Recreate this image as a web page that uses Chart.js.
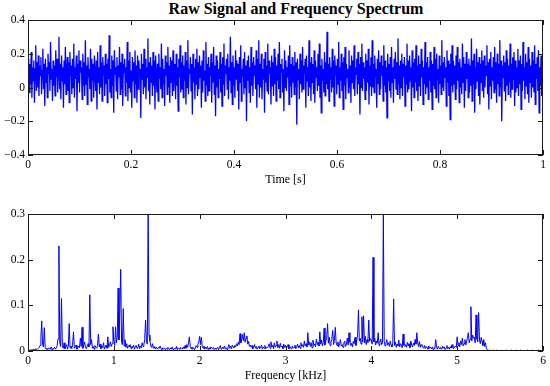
<!DOCTYPE html>
<html>
<head>
<meta charset="utf-8">
<title>Raw Signal and Frequency Spectrum</title>
<script src="https://cdn.jsdelivr.net/npm/chart.js@4.4.1/dist/chart.umd.min.js"></script>
<style>
	html, body { margin: 0; padding: 0; background: #fff; }
	#wrap { position: relative; width: 550px; height: 386px; overflow: hidden; }
	#fig-title {
		position: absolute; left: 0; top: 0; width: 550px; height: 20px;
		box-sizing: border-box; padding-left: 42px;
		text-align: center; line-height: 20px;
		font: bold 16px "Liberation Serif", "Times New Roman", serif; color: #000;
	}
	canvas { position: absolute; left: 0; }
	#chart-signal { top: 0; }
	#chart-spectrum { top: 193px; }
</style>
</head>
<body>
<div id="wrap">
	<div id="fig-title">Raw Signal and Frequency Spectrum</div>
	<canvas id="chart-signal" width="550" height="193"></canvas>
	<canvas id="chart-spectrum" width="550" height="193"></canvas>
</div>
<script>
'use strict';

// Raw signal, in units of 0.01 (800 samples over 1 s).
var signalCentis = [
	9, 17, -3, 14, 2, 21, -6, 12, 4, 16, -9, 11, 25, -2, 15, 0, 19, -5, 13, 7,
	18, -4, 10, 23, -1, 14, -11, 17, 3, 12, -6, 20, 8, 15, -2, 27, 5, 11, -8, 16,
	1, 13, -5, 22, 6, 17, -3, 10, 30, -1, 14, -7, 19, 4, 12, -12, 16, 2, 24, -4,
	11, 18, -2, 15, -9, 21, 7, 13, -4, 17, 0, 26, -6, 12, 5, 19, -14, 14, 3, 22,
	-3, 16, 9, 12, -7, 20, 1, 15, -5, 28, 2, 13, -10, 18, 6, 11, -1, 23, -8, 17,
	4, 14, -6, 19, 10, -2, 16, -13, 21, 3, 12, -4, 25, 0, 15, -8, 18, 7, 13, -5,
	20, 2, 14, -9, 17, 5, 31, -3, 11, -6, 19, 1, 16, -15, 22, 8, 12, -2, 18, -7,
	13, 6, 24, -4, 15, -1, 20, -11, 14, 9, 17, -5, 12, 3, 27, -8, 16, 0, 21, -3,
	10, -12, 18, 4, 15, -6, 22, 2, 13, -9, 19, -1, 16, 7, 11, -18, 20, 5, 14, -4,
	23, 0, 17, -7, 12, 6, 29, -2, 15, -10, 18, 3, 13, -5, 21, 1, 16, -13, 19, 8,
	-3, 14, -8, 20, 5, 12, -1, 26, -6, 17, 2, 11, -11, 19, 7, 15, -4, 24, 0, 13,
	-9, 18, 3, 16, -5, 22, -2, 14, 9, -7, 20, 1, 12, -14, 17, 6, 25, -3, 15, -1,
	19, -6, 13, 4, 21, -10, 16, 0, 28, -4, 11, 8, 18, -2, 14, -16, 20, 3, 12, -7,
	17, 2, 23, -5, 15, -1, 19, 6, 13, -12, 16, -3, 22, 4, 10, -8, 27, 1, 14, -5,
	18, -2, 12, 7, 20, -9, 15, 3, 24, -4, 13, -17, 19, 0, 16, -6, 11, 5, 21, -3,
	14, -11, 18, 2, 26, -5, 13, 8, 17, -1, 20, -7, 12, 4, 30, -3, 15, -10, 19, 1,
	12, -6, 22, 5, 16, -2, 14, -13, 18, 3, 25, -8, 11, 6, 17, -4, 21, 0, 13, -20,
	16, 4, 19, -3, 12, -9, 24, 1, 15, -5, 18, 7, 13, -1, 22, -12, 17, 2, 28, -6,
	14, 0, 20, -7, 11, 5, 17, -15, 21, 3, 13, -2, 26, -4, 16, 8, 12, -10, 19, 1,
	15, -5, 23, 2, 18, -8, 13, 4, 20, -1, 27, -6, 14, 9, 17, -3, 11, -14, 22, 0,
	16, -2, 12, 6, 19, -10, 25, 1, 14, -6, 18, 3, 13, -4, 21, 0, 15, -22, 17, 5,
	11, -7, 20, 2, 16, -3, 24, -1, 13, 8, 17, -12, 19, 4, 12, -5, 28, 0, 15, -8,
	18, 3, 14, -4, 22, -9, 16, 6, 12, -2, 20, 1, 26, -6, 13, -15, 17, 4, 11, -3,
	21, -5, 15, 2, 33, -1, 14, -8, 18, 5, 12, -3, 23, 0, 16, -11, 19, 7, 13, -4,
	17, 2, 27, -6, 12, 4, 20, -2, 15, -13, 18, 1, 24, -7, 14, 6, 11, -3, 22, 0,
	13, -9, 19, 3, 16, -1, 25, -5, 12, 8, 17, -4, 21, 2, 14, -16, 18, 0, 26, -2,
	15, 5, 12, -7, 20, -2, 16, 3, 23, -10, 13, 1, 18, -5, 28, 0, 14, -3, 19, 6,
	11, -12, 17, 2, 22, -4, 15, -1, 19, 7, 13, -8, 25, 1, 16, -3, 12, -18, 20, 4,
	14, -2, 18, -6, 24, 3, 12, -9, 17, 5, 21, -1, 15, -4, 29, 2, 13, -7, 16, 0,
	20, -5, 14, 6, 18, -11, 13, 2, 26, -3, 16, -1, 19, 4, 12, -14, 22, 0, 15, -6,
	17, 3, 25, -2, 13, -8, 19, 1, 14, -5, 23, 6, 16, -10, 12, 2, 27, -4, 15, 0,
	18, -7, 12, 4, 21, -3, 16, -13, 14, 1, 24, -1, 17, -6, 20, 5, 11, -9, 19, 2,
	13, -4, 28, 0, 15, -2, 18, 6, 12, -11, 22, 3, 16, -5, 14, -19, 20, 1, 25, -3,
	16, 2, 13, -7, 19, -1, 24, 4, 15, -9, 17, 0, 12, -4, 26, 3, 18, -12, 14, -2,
	21, 5, 14, -6, 17, -3, 13, 1, 29, -8, 16, 2, 20, -15, 12, -1, 23, 4, 15, -5,
	18, -10, 14, 3, 22, -2, 16, -6, 19, 0, 13, 7, 25, -4, 15, -13, 17, 1, 21, -7,
	12, 4, 18, -3, 24, -1, 15, -9, 20, 2, 14, -5, 28, 0, 16, -20, 13, 6, 19, -2,
	15, -8, 22, 1, 17, -4, 13, 3, 26, -6, 14, -1, 18, 5, 21, -11, 16, -3, 12, 0,
	23, -5, 16, 2, 19, -13, 14, -2, 27, 4, 12, -7, 20, 1, 15, -4, 24, -9, 17, 3,
	13, -6, 21, 0, 16, -3, 25, -10, 14, 5, 18, -2, 22, -15, 12, 1, 19, -5, 16, -8
];

// Magnitude spectrum, in units of 0.001, one value per 10 Hz bin from 0 to 5.99 kHz.
var spectrumMilli = [
	1, 2, 1, 3, 2, 2, 4, 3, 2, 5, 3, 4, 6, 8, 12, 30, 66, 14, 9, 51,
	8, 4, 6, 3, 7, 5, 4, 9, 3, 6, 5, 8, 4, 7, 12, 27, 230, 18, 10, 115,
	12, 6, 18, 5, 9, 14, 4, 10, 60, 7, 11, 5, 15, 42, 6, 9, 13, 4, 8, 11,
	7, 28, 10, 52, 6, 13, 20, 8, 5, 11, 16, 9, 123, 14, 25, 6, 10, 4, 12, 8,
	6, 12, 37, 9, 15, 5, 11, 7, 18, 4, 9, 13, 6, 31, 8, 14, 20, 10, 16, 53,
	22, 12, 53, 18, 30, 138, 24, 86, 179, 20, 14, 93, 11, 25, 8, 16, 6, 12, 9, 14,
	5, 10, 7, 13, 4, 9, 12, 6, 8, 15, 5, 11, 7, 18, 10, 14, 26, 68, 20, 15,
	310, 35, 22, 12, 8, 16, 6, 10, 5, 9, 7, 4, 8, 6, 11, 5, 3, 7, 4, 6,
	3, 6, 4, 8, 5, 3, 7, 4, 9, 3, 5, 6, 4, 10, 3, 7, 5, 4, 8, 6,
	4, 9, 5, 12, 6, 14, 8, 18, 31, 10, 5, 9, 4, 7, 3, 6, 12, 8, 15, 20,
	32, 14, 30, 9, 6, 11, 4, 8, 5, 10, 3, 7, 4, 9, 6, 5, 8, 3, 6, 4,
	5, 8, 3, 7, 12, 4, 6, 9, 5, 11, 4, 7, 3, 8, 14, 6, 10, 5, 13, 9,
	7, 12, 9, 16, 11, 20, 14, 38, 18, 25, 36, 22, 40, 19, 28, 33, 15, 21, 10, 13,
	8, 12, 5, 9, 14, 6, 10, 4, 8, 11, 5, 7, 13, 4, 9, 6, 12, 5, 8, 7,
	10, 16, 6, 20, 9, 13, 5, 18, 8, 12, 22, 7, 14, 6, 17, 9, 11, 5, 15, 8,
	12, 6, 9, 14, 5, 10, 7, 4, 11, 6, 8, 13, 5, 9, 15, 7, 12, 6, 18, 10,
	14, 8, 22, 11, 16, 9, 40, 13, 20, 10, 18, 7, 24, 12, 15, 9, 26, 14, 19, 11,
	42, 15, 24, 11, 19, 50, 13, 22, 28, 60, 17, 30, 12, 20, 26, 45, 14, 23, 52, 18,
	12, 20, 9, 16, 25, 11, 14, 8, 18, 22, 10, 15, 28, 13, 40, 19, 12, 17, 9, 21,
	16, 30, 12, 24, 35, 90, 22, 28, 15, 75, 20, 77, 18, 32, 14, 25, 19, 68, 21, 27,
	24, 15, 205, 20, 28, 13, 22, 17, 40, 12, 19, 26, 14, 18, 298, 21, 11, 16, 25, 13,
	18, 10, 22, 14, 9, 17, 114, 12, 20, 8, 15, 11, 24, 9, 16, 13, 7, 37, 12, 10,
	14, 8, 19, 11, 16, 7, 22, 13, 9, 17, 12, 25, 15, 40, 18, 10, 21, 8, 14, 11,
	9, 6, 12, 5, 10, 7, 4, 11, 6, 8, 5, 9, 3, 7, 5, 25, 8, 4, 10, 6,
	5, 8, 4, 11, 6, 9, 3, 7, 12, 5, 8, 4, 10, 6, 14, 7, 5, 9, 11, 8,
	31, 12, 18, 9, 22, 14, 28, 11, 16, 25, 13, 20, 30, 40, 18, 26, 97, 22, 35, 28,
	30, 18, 79, 26, 20, 84, 24, 16, 30, 22, 12, 25, 10, 18, 6, 3, 2, 1, 2, 1,
	1, 1, 2, 1, 1, 1, 2, 1, 1, 1, 1, 2, 1, 1, 1, 1, 1, 2, 1, 1,
	1, 1, 1, 2, 1, 1, 1, 1, 1, 2, 1, 1, 1, 1, 2, 1, 1, 1, 1, 1,
	1, 1, 2, 1, 1, 1, 1, 1, 2, 1, 1, 1, 1, 1, 1, 2, 1, 1, 1, 1
];

var SIGNAL_DURATION = 1;   // seconds
var FREQ_STEP = 0.01;      // kHz per bin

var timeTicks   = [0, 0.2, 0.4, 0.6, 0.8, 1];
var signalTicks = [-0.4, -0.2, 0, 0.2, 0.4];
var freqTicks   = [0, 1, 2, 3, 4, 5, 6];
var magTicks    = [0, 0.1, 0.2, 0.3];

var LINE_BLUE = '#0000ff';
var AXIS_COLOR = '#1a1a1a';
var SERIF = '"Liberation Serif", "Times New Roman", serif';

/**
 * Format a tick like MATLAB does: trimmed decimals and a real minus sign.
 */
function tickLabel(v) {
	var s = String(Number(v.toFixed(2)));
	return s.replace('-', '\u2212');
}

/**
 * Boxed axes with inward tick marks on all four sides.
 */
var boxTicks = {
	id: 'boxTicks',
	afterDatasetsDraw: function(chart) {
		var ctx = chart.ctx;
		var a = chart.chartArea;
		var x = chart.scales.x;
		var y = chart.scales.y;
		var len = 5;

		ctx.save();
		ctx.strokeStyle = AXIS_COLOR;
		ctx.lineWidth = 1;
		ctx.beginPath();
		x.ticks.forEach(function(t) {
			var px = Math.round(x.getPixelForValue(t.value)) + 0.5;
			ctx.moveTo(px, a.bottom);
			ctx.lineTo(px, a.bottom - len);
			ctx.moveTo(px, a.top);
			ctx.lineTo(px, a.top + len);
		});
		y.ticks.forEach(function(t) {
			var py = Math.round(y.getPixelForValue(t.value)) + 0.5;
			ctx.moveTo(a.left, py);
			ctx.lineTo(a.left + len, py);
			ctx.moveTo(a.right, py);
			ctx.lineTo(a.right - len, py);
		});
		ctx.stroke();
		ctx.strokeRect(a.left + 0.5, a.top + 0.5, a.right - a.left - 1, a.bottom - a.top - 1);
		ctx.restore();
	}
};

/**
 * Build one line panel.
 */
function makePanel(canvasId, points, cfg) {
	var ctx = document.getElementById(canvasId).getContext('2d');
	return new Chart(ctx, {
		type: 'line',
		data: {
			datasets: [{
				data: points,
				borderColor: LINE_BLUE,
				borderWidth: cfg.lineWidth,
				pointRadius: 0,
				fill: false,
				tension: 0
			}]
		},
		options: {
			responsive: false,
			devicePixelRatio: 1,
			animation: false,
			parsing: false,
			normalized: true,
			layout: { padding: { top: cfg.padTop, right: 7, left: 0, bottom: 0 } },
			plugins: {
				legend: { display: false },
				tooltip: { enabled: false },
				title: { display: false }
			},
			scales: {
				x: {
					type: 'linear',
					min: cfg.xTicks[0],
					max: cfg.xTicks[cfg.xTicks.length - 1],
					afterBuildTicks: function(s) { s.ticks = cfg.xTicks.map(function(v) { return { value: v }; }); },
					afterFit: function(s) { s.height = cfg.xHeight; },
					grid: { display: false, drawTicks: false },
					border: { display: false },
					ticks: {
						autoSkip: false, maxRotation: 0, padding: 3,
						color: '#000',
						font: { family: SERIF, size: 11.5 },
						callback: tickLabel
					},
					title: {
						display: true,
						text: cfg.xTitle,
						color: '#000',
						font: { family: SERIF, size: 12 },
						padding: { top: 0, bottom: cfg.titlePad }
					}
				},
				y: {
					min: cfg.yTicks[0],
					max: cfg.yTicks[cfg.yTicks.length - 1],
					afterBuildTicks: function(s) { s.ticks = cfg.yTicks.map(function(v) { return { value: v }; }); },
					afterFit: function(s) { s.width = 28; },
					grid: { display: false, drawTicks: false },
					border: { display: false },
					ticks: {
						autoSkip: false, padding: 3,
						color: '#000',
						font: { family: SERIF, size: 11.5 },
						callback: tickLabel
					}
				}
			}
		},
		plugins: [boxTicks]
	});
}

var signalPoints = signalCentis.map(function(v, i) {
	return { x: i * SIGNAL_DURATION / (signalCentis.length - 1), y: v / 100 };
});
var spectrumPoints = spectrumMilli.map(function(v, i) {
	return { x: i * FREQ_STEP, y: v / 1000 };
});

makePanel('chart-signal', signalPoints, {
	padTop: 20, xHeight: 38, titlePad: 6, lineWidth: 1.3,
	xTicks: timeTicks, yTicks: signalTicks, xTitle: 'Time [s]'
});
makePanel('chart-spectrum', spectrumPoints, {
	padTop: 21, xHeight: 35, titlePad: 3, lineWidth: 1,
	xTicks: freqTicks, yTicks: magTicks, xTitle: 'Frequency [kHz]'
});
</script>
</body>
</html>
